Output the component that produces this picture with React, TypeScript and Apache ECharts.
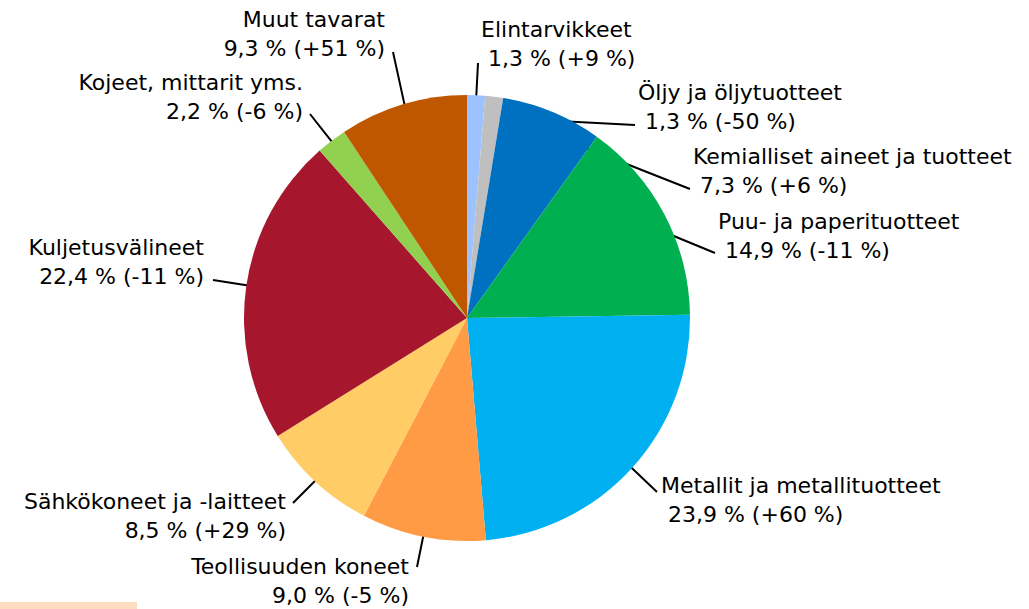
import React, { useEffect, useRef } from "react";
import * as echarts from "echarts";

// ---- Data ----
const CATEGORIES = [
  "Elintarvikkeet",
  "Öljy ja öljytuotteet",
  "Kemialliset aineet ja tuotteet",
  "Puu- ja paperituotteet",
  "Metallit ja metallituotteet",
  "Teollisuuden koneet",
  "Sähkökoneet ja -laitteet",
  "Kuljetusvälineet",
  "Kojeet, mittarit yms.",
  "Muut tavarat",
];
const SHARES = [1.3, 1.3, 7.3, 14.9, 23.9, 9.0, 8.5, 22.4, 2.2, 9.3];
const CHANGES = ["+9", "-50", "+6", "-11", "+60", "-5", "+29", "-11", "-6", "+51"];
const COLORS = [
  "#9CC3FF",
  "#BFBFBF",
  "#0070C0",
  "#00B050",
  "#00B0F0",
  "#FF9A45",
  "#FFCC66",
  "#A6162D",
  "#92D050",
  "#BF5700",
];

// ---- Layout (positions only) ----
const CENTER: [number, number] = [467, 318];
const RADIUS = 223;
const ANCHOR_RATIO = 0.905;
const LABEL_POS: { x: number; y: number; align: "left" | "right"; end: [number, number] }[] = [
  { x: 481, y: 44, align: "left", end: [478, 63] },
  { x: 638, y: 107, align: "left", end: [635, 125] },
  { x: 693, y: 171, align: "left", end: [690, 189] },
  { x: 718, y: 236, align: "left", end: [715, 253] },
  { x: 661, y: 500, align: "left", end: [657, 492] },
  { x: 409, y: 581, align: "right", end: [417, 567] },
  { x: 286, y: 516, align: "right", end: [293, 503] },
  { x: 204, y: 262, align: "right", end: [213, 280] },
  { x: 303, y: 97, align: "right", end: [310, 114] },
  { x: 385, y: 34, align: "right", end: [393, 52] },
];

function fmt(v: number) {
  return v.toFixed(1).replace(".", ",");
}

export default function App() {
  const ref = useRef<HTMLDivElement>(null);

  useEffect(() => {
    if (!ref.current) return;
    const chart = echarts.init(ref.current, null, { renderer: "svg" });

    const total = SHARES.reduce((a, b) => a + b, 0);
    const cumBefore: number[] = [];
    let acc = 0;
    SHARES.forEach((v) => {
      cumBefore.push(acc);
      acc += v;
    });
    const anchorOf = (i: number): [number, number] => {
      const mid = ((cumBefore[i] + SHARES[i] / 2) / total) * Math.PI * 2;
      const r = RADIUS * ANCHOR_RATIO;
      return [CENTER[0] + r * Math.sin(mid), CENTER[1] - r * Math.cos(mid)];
    };

    const data = CATEGORIES.map((name, i) => ({
      name,
      value: SHARES[i],
      itemStyle: { color: COLORS[i] },
    }));

    chart.setOption({
      animation: false,
      graphic: [
        {
          type: "rect",
          left: 0,
          top: 602,
          shape: { width: 137, height: 7 },
          style: { fill: "#FDDCBF" },
          silent: true,
        },
      ],
      series: [
        {
          type: "pie",
          center: CENTER,
          radius: RADIUS,
          startAngle: 90,
          clockwise: true,
          silent: true,
          emphasis: { disabled: true },
          itemStyle: { borderWidth: 0 },
          data,
          label: {
            show: true,
            position: "outside",
            fontFamily: "DejaVu Sans",
            fontSize: 22,
            lineHeight: 29,
            color: "#000000",
            formatter: (p: any) => {
              const i = p.dataIndex;
              const second = `${fmt(SHARES[i])} % (${CHANGES[i]} %)`;
              return LABEL_POS[i].align === "left"
                ? `${CATEGORIES[i]}\n ${second}`
                : `${CATEGORIES[i]}\n${second}`;
            },
          },
          labelLine: {
            show: true,
            length: 0,
            length2: 0,
            lineStyle: { color: "#000000", width: 2 },
          },
          labelLayout: (params: any) => {
            const i = params.dataIndex;
            const pos = LABEL_POS[i];
            const a = anchorOf(i);
            const m: [number, number] = [(a[0] + pos.end[0]) / 2, (a[1] + pos.end[1]) / 2];
            return {
              x: pos.x,
              y: pos.y,
              align: pos.align,
              verticalAlign: "middle",
              labelLinePoints: [a, m, pos.end],
            };
          },
        },
      ],
    });

    return () => chart.dispose();
  }, []);

  return (
    <div
      ref={ref}
      style={{ position: "fixed", left: 0, top: 0, width: 1029, height: 609, background: "#ffffff" }}
    />
  );
}
